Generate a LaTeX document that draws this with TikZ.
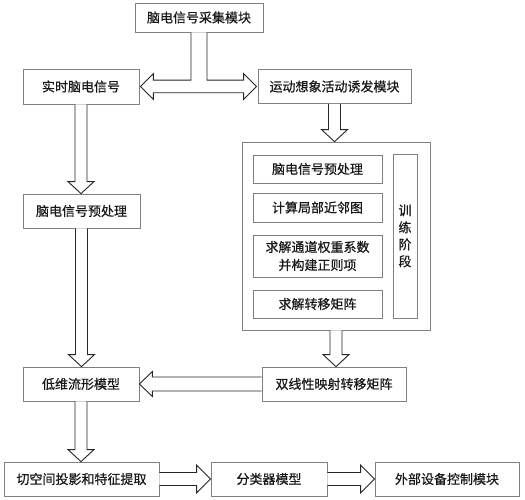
\documentclass[tikz,border=0pt]{standalone}
\usepackage{fontspec}
\newfontfamily\cjk{Noto Sans CJK SC}[FakeBold=0.6]
\usetikzlibrary{calc}
\tikzset{
  box/.style={draw=black!50, line width=0.8pt, fill=white, inner sep=0pt, align=center,
    font=\cjk\fontsize{13}{17}\selectfont, text=black!90},
  barrow/.style={draw=black!85, line width=0.9pt, fill=white, line join=miter},
}
\newcommand\darrowbox[2]{%
  \draw[barrow] let \p1=(#1.south), \p2=(#2.north) in
    (\x1-6pt,\y1) -- (\x1-6pt,\y2+12pt) -- (\x1-13pt,\y2+12pt) -- (\x1,\y2)
    -- (\x1+13pt,\y2+12pt) -- (\x1+6pt,\y2+12pt) -- (\x1+6pt,\y1);}
\newcommand\larrowbox[2]{%
  \draw[barrow] let \p1=(#1.west), \p2=(#2.east) in
    (\x1,\y1+7pt) -- (\x2+13pt,\y1+7pt) -- (\x2+13pt,\y1+12.5pt) -- (\x2,\y1)
    -- (\x2+13pt,\y1-12.5pt) -- (\x2+13pt,\y1-7pt) -- (\x1,\y1-7pt);}
\newcommand\rarrowbox[2]{%
  \draw[barrow] let \p1=(#1.east), \p2=(#2.west) in
    (\x1,\y1+6.5pt) -- (\x2-14pt,\y1+6.5pt) -- (\x2-14pt,\y1+14pt) -- (\x2,\y1)
    -- (\x2-14pt,\y1-14pt) -- (\x2-14pt,\y1-6.5pt) -- (\x1,\y1-6.5pt);}
\begin{document}
\begin{tikzpicture}[x=1pt,y=-1pt]
\useasboundingbox (0,0) rectangle (525,500);
\fill[white] (0,0) rectangle (525,500);

\node[box, minimum width=128pt, minimum height=29pt] (top) at (199,17.5) {脑电信号采集模块};
\node[box, minimum width=116pt, minimum height=35pt] (rt) at (81,86.5) {实时脑电信号};
\node[box, minimum width=153pt, minimum height=34pt] (mi) at (334.5,86.5) {运动想象活动诱发模块};
\node[box, minimum width=117pt, minimum height=34pt] (pre) at (81.5,211) {脑电信号预处理};

\node[box, minimum width=188pt, minimum height=188pt] (big) at (336,236) {};
\node[box, minimum width=129pt, minimum height=28pt] (in1) at (317.5,169) {脑电信号预处理};
\node[box, minimum width=129pt, minimum height=29pt] (in2) at (317.5,207.5) {计算局部近邻图};
\node[box, minimum width=129pt, minimum height=42pt] (in3) at (317.5,256) {求解通道权重系数\\[1pt]并构建正则项};
\node[box, minimum width=129pt, minimum height=28pt] (in4) at (317.5,304) {求解转移矩阵};
\node[box, minimum width=24pt, minimum height=164pt] (train) at (405,236) {训\\练\\阶\\段};

\node[box, minimum width=144pt, minimum height=34pt] (bil) at (334,384) {双线性映射转移矩阵};
\node[box, minimum width=116pt, minimum height=34pt] (low) at (81,384) {低维流形模型};
\node[box, minimum width=155pt, minimum height=34pt] (tan) at (81.5,479) {切空间投影和特征提取};
\node[box, minimum width=116pt, minimum height=34pt] (cls) at (269,479) {分类器模型};
\node[box, minimum width=144pt, minimum height=34pt] (ext) at (447,479) {外部设备控制模块};

% T-shaped double arrow
\draw[barrow] let \p1=(top.south), \p2=(rt.east), \p3=(mi.west) in
  (\x1-8pt,\y1) -- (\x1-8pt,\y2+6.3pt) -- (\x2+14pt,\y2+6.3pt) -- (\x2+14pt,\y2+13pt)
  -- (\x2+1pt,\y2) -- (\x2+14pt,\y2-13pt) -- (\x2+14pt,\y2-6.3pt)
  -- (\x3-14pt,\y2-6.3pt) -- (\x3-14pt,\y2-13pt) -- (\x3-1pt,\y2)
  -- (\x3-14pt,\y2+13pt) -- (\x3-14pt,\y2+6.3pt) -- (\x1+8pt,\y2+6.3pt) -- (\x1+8pt,\y1);

\darrowbox{rt}{pre}
\darrowbox{pre}{low}
\darrowbox{mi}{big}
\darrowbox{big}{bil}
\darrowbox{low}{tan}
\larrowbox{bil}{low}
\rarrowbox{tan}{cls}
\rarrowbox{cls}{ext}
\end{tikzpicture}
\end{document}
